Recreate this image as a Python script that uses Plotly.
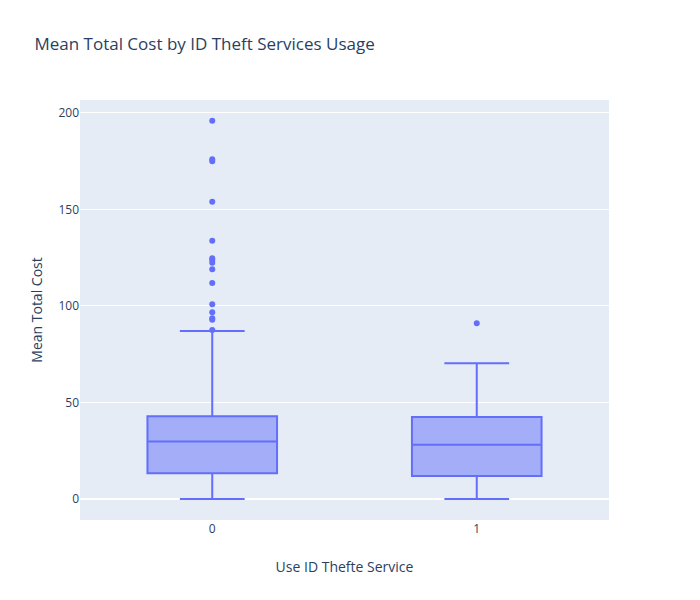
import plotly.graph_objects as go

categories = ["0", "1"]
q1 = [13.3, 11.9]
median = [29.8, 28.1]
q3 = [42.8, 42.5]
lowerfence = [0.0, 0.0]
upperfence = [87.0, 70.3]

outliers_0 = [196.0, 176.0, 175.0, 154.0, 133.8, 124.7, 123.8, 122.4, 119.0,
              111.9, 100.9, 96.7, 93.6, 92.8, 87.5]
outliers_1 = [91.0]

color = "#636efa"

fig = go.Figure()
fig.add_trace(go.Box(
    x=categories, q1=q1, median=median, q3=q3,
    lowerfence=lowerfence, upperfence=upperfence,
    marker_color=color, boxpoints=False, name="",
    showlegend=False,
))
ox = [categories[0]] * len(outliers_0) + [categories[1]] * len(outliers_1)
oy = outliers_0 + outliers_1
fig.add_trace(go.Scatter(
    x=ox, y=oy, mode="markers",
    marker=dict(color=color, size=6),
    showlegend=False, name="",
))

fig.update_layout(
    template="plotly",
    width=689, height=600,
    title=dict(text="Mean Total Cost by ID Theft Services Usage"),
    boxmode="group",
    xaxis=dict(title=dict(text="Use ID Thefte Service", standoff=26),
               type="category", range=[-0.5, 1.5]),
    yaxis=dict(title=dict(text="Mean Total Cost", standoff=12),
               range=[-10.9, 206.7]),
)

fig.write_html("out.html")
